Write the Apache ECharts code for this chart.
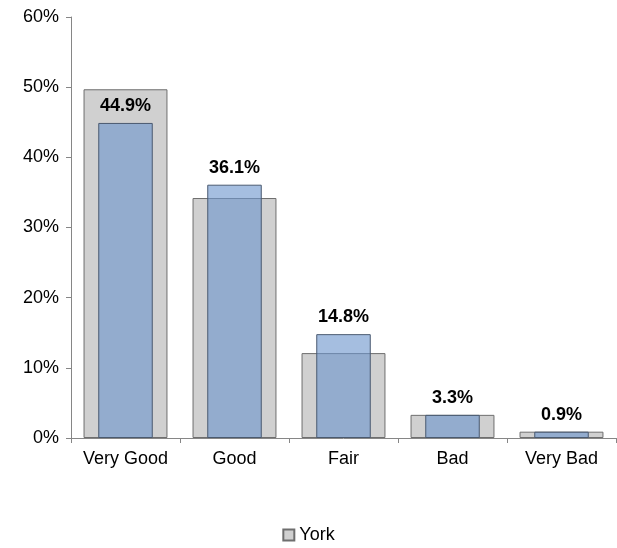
<!DOCTYPE html>
<html lang="en">
<head>
    <meta charset="UTF-8">
    <title>York</title>
    <script src="https://cdn.jsdelivr.net/npm/echarts@6/dist/echarts.min.js"></script>
</head>
<body style="margin:0">
    <div id="main" style="width: 617px; height:548px;"></div>
    <script type="text/javascript">
        var categories = ['Very Good', 'Good', 'Fair', 'Bad', 'Very Bad'];
        var yorkValues = [49.7, 34.2, 12.1, 3.3, 0.9];
        var otherValues = [44.9, 36.1, 14.8, 3.3, 0.9];
        var yTicks = [0, 10, 20, 30, 40, 50, 60];

        var font = 'Liberation Sans, Arial, sans-serif';
        var myChart = echarts.init(document.getElementById('main'));
        var option = {
            animation: false,
            textStyle: { fontFamily: font },
            grid: { left: 71, right: 1, top: 17, bottom: 110 },
            legend: {
                bottom: -1,
                left: 'center',
                data: [{ name: 'York', icon: 'rect' }],
                itemWidth: 11, itemHeight: 11, itemGap: 4,
                textStyle: { fontSize: 18, color: '#000', fontFamily: font }
            },
            xAxis: [{
                type: 'category',
                data: categories,
                axisTick: { show: true, lineStyle: { color: '#868686' } },
                axisLine: { lineStyle: { color: '#868686' } },
                axisLabel: { fontSize: 18, color: '#000', margin: 12, interval: 0 }
            }, {
                type: 'category',
                data: categories,
                show: false
            }],
            yAxis: {
                type: 'value',
                min: 0, max: 60, interval: 10,
                axisLine: { show: true, lineStyle: { color: '#868686' } },
                axisTick: { show: true, lineStyle: { color: '#868686' } },
                splitLine: { show: false },
                axisLabel: {
                    fontSize: 18, color: '#000', margin: 12,
                    formatter: function (v) { return yTicks.indexOf(v) >= 0 ? v + '%' : ''; }
                }
            },
            series: [{
                name: 'York',
                type: 'bar',
                xAxisIndex: 0,
                barWidth: '77%',
                data: yorkValues,
                itemStyle: { color: '#d0d0d0', borderColor: '#6e6e6e', borderWidth: 1 }
            }, {
                name: 'Other',
                type: 'bar',
                xAxisIndex: 1,
                barWidth: '50%',
                data: otherValues,
                itemStyle: { color: 'rgba(110,150,205,0.62)', borderColor: '#4a5a70', borderWidth: 1 },
                label: {
                    show: true, position: 'top', distance: 8,
                    fontSize: 18, fontWeight: 'bold', color: '#000',
                    formatter: function (p) { return p.value.toFixed(1) + '%'; }
                }
            }]
        };
        myChart.setOption(option);
    </script>
</body>
</html>
